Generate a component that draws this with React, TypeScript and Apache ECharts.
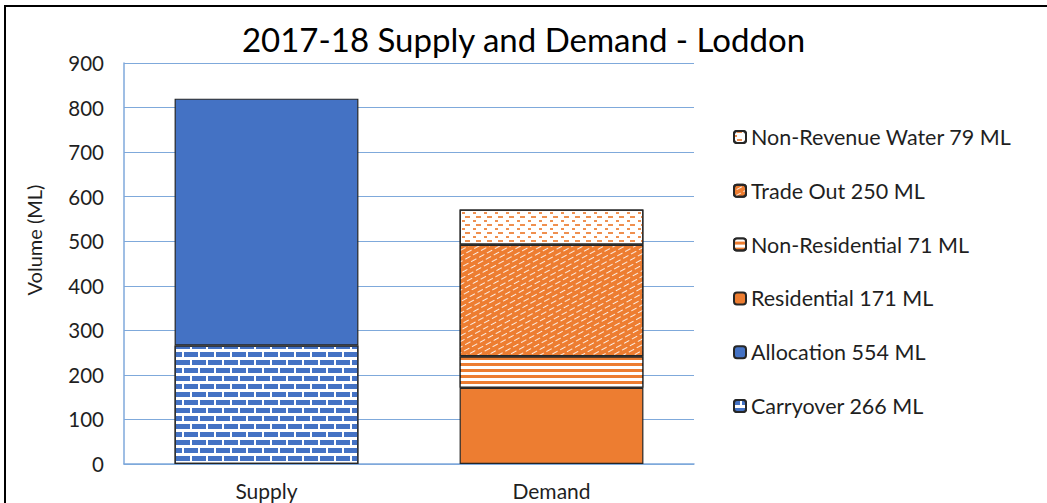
import React, { useEffect, useRef } from "react";
import * as echarts from "echarts";

const categories = ["Supply", "Demand"];
const carryover = [266, "-"];
const allocation = [554, "-"];
const residential = ["-", 171];
const nonResidential = ["-", 71];
const tradeOut = ["-", 250];
const nonRevenueWater = ["-", 79];
const legendOrder = [
  "Non-Revenue Water 79 ML",
  "Trade Out 250 ML",
  "Non-Residential 71 ML",
  "Residential 171 ML",
  "Allocation 554 ML",
  "Carryover 266 ML",
];
const yAxisTitle = "Volume (ML)";

const BLUE = "#4472C4";
const ORANGE = "#ED7D31";
const FONT = "Lato";
const TEXT = "#1f1f1f";

export default function App() {
  const ref = useRef<HTMLDivElement>(null);
  useEffect(() => {
    if (!ref.current) return;
    const chart = echarts.init(ref.current, null, { renderer: "svg" });
    const border = { borderColor: "#262626", borderWidth: 1.2 };
    chart.setOption({
      animation: false,
      backgroundColor: "#fff",
      title: {
        text: "2017-18 Supply and Demand - Loddon",
        left: "center",
        top: 17,
        textStyle: { fontFamily: FONT, fontSize: 33, fontWeight: "normal", color: "#000" },
      },
      graphic: [
        {
          type: "rect",
          shape: { x: 5, y: 6, width: 1100, height: 600 },
          style: { fill: "none", stroke: "#000", lineWidth: 2 },
          silent: true,
        },
        {
          type: "text",
          x: 34,
          y: 240,
          rotation: Math.PI / 2,
          style: {
            text: yAxisTitle,
            fontFamily: FONT,
            fontSize: 20,
            fill: TEXT,
            align: "center",
            verticalAlign: "middle",
          },
          silent: true,
        },
      ],
      legend: {
        orient: "vertical",
        left: 728,
        top: 121,
        itemWidth: 12,
        itemHeight: 12,
        itemGap: 31.8,
        data: legendOrder,
        textStyle: { fontFamily: FONT, fontSize: 21.5, color: TEXT, lineHeight: 22 },
      },
      grid: { left: 124, right: 353, top: 63, bottom: 39 },
      xAxis: {
        type: "category",
        data: categories,
        axisLine: { lineStyle: { color: "#7FA9DB", width: 1.5 } },
        axisTick: { show: false },
        axisLabel: { fontFamily: FONT, fontSize: 21, color: TEXT, margin: 16 },
      },
      yAxis: {
        type: "value",
        min: 0,
        max: 900,
        interval: 100,
        axisLine: { show: true, lineStyle: { color: "#7FA9DB", width: 1.5 } },
        axisTick: { show: false },
        splitLine: { lineStyle: { color: "#7FA9DB", width: 1 } },
        axisLabel: { fontFamily: FONT, fontSize: 20.5, color: TEXT, margin: 20 },
      },
      series: [
        {
          name: "Carryover 266 ML",
          type: "bar",
          stack: "total",
          barWidth: "64.5%",
          data: carryover,
          itemStyle: {
            color: "#fff",
            ...border,
            decal: {
              symbol: "rect",
              symbolSize: 1,
              color: BLUE,
              dashArrayX: [[14, 2], [6, 2, 8, 0]],
              dashArrayY: [5, 3],
              rotation: 0,
            },
          },
        },
        {
          name: "Allocation 554 ML",
          type: "bar",
          stack: "total",
          data: allocation,
          itemStyle: { color: BLUE, ...border },
        },
        {
          name: "Residential 171 ML",
          type: "bar",
          stack: "total",
          data: residential,
          itemStyle: { color: ORANGE, ...border },
        },
        {
          name: "Non-Residential 71 ML",
          type: "bar",
          stack: "total",
          data: nonResidential,
          itemStyle: {
            color: ORANGE,
            ...border,
            decal: {
              symbol: "rect",
              symbolSize: 1,
              color: "#fff",
              dashArrayX: [1, 0],
              dashArrayY: [3, 3],
              rotation: 0,
            },
          },
        },
        {
          name: "Trade Out 250 ML",
          type: "bar",
          stack: "total",
          data: tradeOut,
          itemStyle: {
            color: ORANGE,
            ...border,
            decal: {
              symbol: "rect",
              symbolSize: 1,
              color: "rgba(255,255,255,0.85)",
              dashArrayX: [[6, 3], [2, 3, 4, 0]],
              dashArrayY: [1, 4],
              rotation: -0.5,
            },
          },
        },
        {
          name: "Non-Revenue Water 79 ML",
          type: "bar",
          stack: "total",
          data: nonRevenueWater,
          itemStyle: {
            color: "#fff",
            ...border,
            decal: {
              symbol: "rect",
              symbolSize: 1,
              color: "rgba(237,125,49,0.85)",
              dashArrayX: [[3, 8], [0, 3, 5, 3]],
              dashArrayY: [2, 2],
              rotation: 0,
            },
          },
        },
      ],
    });
    return () => chart.dispose();
  }, []);
  return (
    <div
      ref={ref}
      style={{ position: "fixed", left: 0, top: 0, width: 1047, height: 503 }}
    />
  );
}
